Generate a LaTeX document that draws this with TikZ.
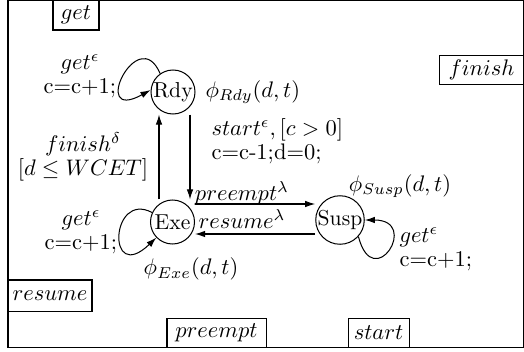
\documentclass[tikz,border=0pt]{standalone}
\usetikzlibrary{arrows.meta}
\def\pxu{0.4444pt}
\begin{document}
\begin{tikzpicture}[x=0.4444pt,y=-0.4444pt,line width=0.45pt,
  state/.style={circle,draw,font=\fontsize{9.6}{11}\selectfont,inner sep=0pt,minimum size=44*\pxu,fill=white},
  evbox/.style={draw,inner sep=0pt,fill=white},
  lbl/.style={inner sep=0pt},
  arr/.style={-{Latex[length=4.5pt,width=2.9pt]}}]
\useasboundingbox (0,0) rectangle (524,351);
\draw (8,0.5) rectangle (523.5,347.5);
% event boxes
\node[evbox,minimum width=46*\pxu,minimum height=30*\pxu] (bget) at (76,15) {$get$};
\node[evbox,minimum width=84*\pxu,minimum height=29*\pxu] (bfin) at (481.5,70) {$finish$};
\node[evbox,minimum width=84*\pxu,minimum height=31*\pxu] (bres) at (50,295.5) {$resume$};
\node[evbox,minimum width=99*\pxu,minimum height=29*\pxu] (bpre) at (216.5,332.5) {$preempt$};
\node[evbox,minimum width=61*\pxu,minimum height=29*\pxu] (bsta) at (378.5,332.5) {$start$};
% states
\node[state] (Rdy) at (173,92) {Rdy};
\node[state] (Exe) at (172.5,222) {Exe};
\node[state] (Susp) at (340,220) {Susp};
% helper coordinates
\coordinate (xl) at (159,0);
\coordinate (xr) at (190,0);
\coordinate (yp) at (0,204);
\coordinate (yr) at (0,234);
% transitions
\draw[arr] (Rdy.south -| xr) -- (Exe.north -| xr);
\draw[arr] (Exe.north -| xl) -- (Rdy.south -| xl);
\draw[arr] (Exe.east |- yp) -- (Susp.west |- yp);
\draw[arr] (Susp.west |- yr) -- (Exe.east |- yr);
\draw[arr] (Rdy.125) .. controls +(-22,-52) and +(-62,34) .. (Rdy.175);
\draw[arr] (Exe.155) .. controls +(-42,-22) and +(-50,48) .. (Exe.224);
\draw[arr] (Susp.-42) .. controls +(15,58) and +(56,0) .. (Susp.east);
% labels
\node[lbl,align=center] (lgr) at (80,76) {$get^{\epsilon}$\\[-1.5pt]c=c+1;};
\node[lbl,anchor=west] (lphr) at (205,92) {$\phi_{Rdy}(d,t)$};
\node[lbl,anchor=west,align=left] (lst) at (211,141) {$start^{\epsilon}, [c>0]$\\[-1.5pt]c=c-1;d=0;};
\node[lbl,align=center] (lfin) at (83,157) {$finish^{\delta}$\\[-1.5pt]$[d\leq WCET]$};
\node[lbl] (lpre) at (242,193) {$preempt^{\lambda}$};
\node[lbl] (lres) at (242,219) {$resume^{\lambda}$};
\node[lbl] (lphs) at (400,186) {$\phi_{Susp}(d,t)$};
\node[lbl,align=center] (lge) at (81,232) {$get^{\epsilon}$\\[-1.5pt]c=c+1;};
\node[lbl] (lphe) at (191,269) {$\phi_{Exe}(d,t)$};
\node[lbl,anchor=west,align=left] (lgs) at (399,249) {$get^{\epsilon}$\\[-1.5pt]c=c+1;};
\end{tikzpicture}
\end{document}
